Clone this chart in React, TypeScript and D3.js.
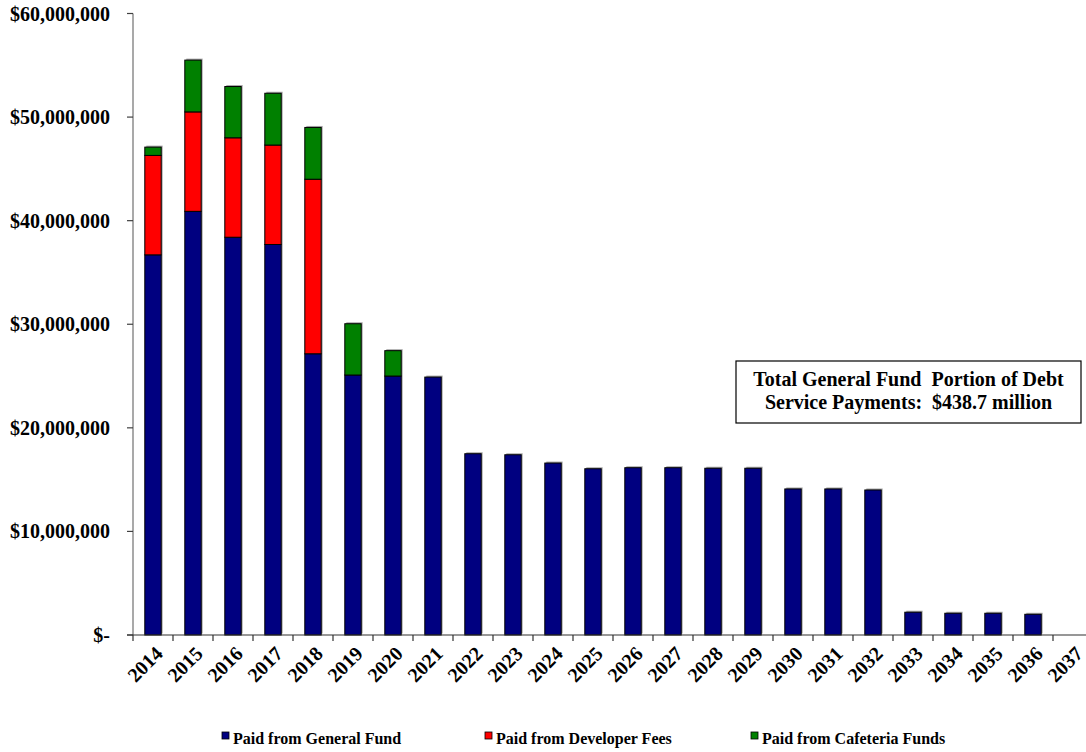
import React from "react";
import * as d3 from "d3";

// Debt service payments by fiscal year, in millions of dollars
const years = [
  "2014", "2015", "2016", "2017", "2018", "2019", "2020", "2021", "2022", "2023", "2024", "2025",
  "2026", "2027", "2028", "2029", "2030", "2031", "2032", "2033", "2034", "2035", "2036", "2037",
];
const generalFund = [
  36.7, 40.9, 38.4, 37.7, 27.15, 25.1, 25.0, 24.9, 17.5, 17.4, 16.6, 16.05,
  16.15, 16.15, 16.1, 16.1, 14.1, 14.1, 14.0, 2.2, 2.1, 2.1, 2.0, 0,
];
const developerFees = [
  9.6, 9.6, 9.6, 9.6, 16.85, 0, 0, 0, 0, 0, 0, 0,
  0, 0, 0, 0, 0, 0, 0, 0, 0, 0, 0, 0,
];
const cafeteriaFunds = [
  0.8, 5.0, 4.95, 5.0, 5.0, 4.95, 2.45, 0, 0, 0, 0, 0,
  0, 0, 0, 0, 0, 0, 0, 0, 0, 0, 0, 0,
];
const yTicks = [0, 10, 20, 30, 40, 50, 60];
const seriesNames = ["Paid from General Fund", "Paid from Developer Fees", "Paid from Cafeteria Funds"];
const seriesColors = ["#000080", "#FF0000", "#008000"];
const noteLines = ["Total General Fund  Portion of Debt", "Service Payments:  $438.7 million"];

const W = 1086;
const H = 752;
const FONT = "Liberation Serif, Times New Roman, serif";

const fmtMoney = (v: number) => (v === 0 ? "$-" : "$" + d3.format(",")(v * 1e6));

export default function App() {
  const x = d3
    .scaleBand<string>()
    .domain(years)
    .range([133, 1093])
    .paddingInner(0.59)
    .paddingOuter(0.295);
  const y = d3.scaleLinear().domain([0, 60]).range([635, 13.5]);

  const rows = years.map((yr, i) => ({
    year: yr,
    general: generalFund[i],
    developer: developerFees[i],
    cafeteria: cafeteriaFunds[i],
  }));
  const stack = d3.stack<any>().keys(["general", "developer", "cafeteria"]);
  const layers = stack(rows);

  const bw = x.bandwidth();
  const step = x.step();
  const x0 = 133;
  const baseY = y(0);

  const boundaries = d3.range(years.length).map((i) => x0 + i * step);

  const legendX = [222, 485, 751];

  return (
    <svg
      width={W}
      height={H}
      style={{ position: "absolute", left: 0, top: 0, background: "#fff" }}
      fontFamily={FONT}
    >
      <rect width={W} height={H} fill="#fff" />

      {/* drop shadows behind each stacked column */}
      {rows.map((r, i) => {
        const total = r.general + r.developer + r.cafeteria;
        if (total <= 0) return null;
        const bx = x(r.year)!;
        return (
          <rect
            key={"sh" + i}
            x={bx + 1.5}
            y={y(total) - 1.5}
            width={bw}
            height={baseY - y(total)}
            fill="#a8a8a8"
          />
        );
      })}

      {/* stacked segments */}
      {layers.map((layer, li) =>
        layer.map((seg, i) => {
          const h = y(seg[0]) - y(seg[1]);
          if (h <= 0) return null;
          return (
            <rect
              key={li + "-" + i}
              x={x(years[i])!}
              y={y(seg[1])}
              width={bw}
              height={h}
              fill={seriesColors[li]}
              stroke="#000"
              strokeWidth={1}
            />
          );
        })
      )}

      {/* y axis */}
      <line x1={x0} x2={x0} y1={y(60)} y2={baseY} stroke="#707070" strokeWidth={1.2} />
      {yTicks.map((t) => (
        <g key={"yt" + t}>
          <line x1={x0 - 6} x2={x0} y1={y(t)} y2={y(t)} stroke="#404040" strokeWidth={1.2} />
          <text
            x={110}
            y={y(t)}
            textAnchor="end"
            dominantBaseline="central"
            fontSize={20}
            fontWeight="bold"
            fill="#000"
          >
            {fmtMoney(t)}
          </text>
        </g>
      ))}

      {/* x axis */}
      <line x1={x0 - 6} x2={W} y1={baseY} y2={baseY} stroke="#303030" strokeWidth={1.2} />
      {boundaries.map((bx, i) => (
        <line key={"xt" + i} x1={bx} x2={bx} y1={baseY} y2={baseY + 6} stroke="#303030" strokeWidth={1.2} />
      ))}
      {years.map((yr) => {
        const cx = x(yr)! + bw / 2;
        return (
          <text
            key={"xl" + yr}
            transform={`translate(${cx + 6},${baseY + 15}) rotate(-45)`}
            textAnchor="end"
            dominantBaseline="central"
            fontSize={20}
            fontWeight="bold"
            fill="#000"
          >
            {yr}
          </text>
        );
      })}

      {/* annotation box */}
      <rect x={736} y={361} width={345} height={62} fill="#fff" stroke="#000" strokeWidth={1.2} />
      {noteLines.map((ln, i) => (
        <text
          key={"n" + i}
          x={908.5}
          y={386 + i * 23}
          textAnchor="middle"
          fontSize={20}
          fontWeight="bold"
          fill="#000"
          style={{ whiteSpace: "pre" }}
        >
          {ln}
        </text>
      ))}

      {/* legend */}
      {seriesNames.map((nm, i) => (
        <g key={"lg" + i}>
          <rect
            x={legendX[i]}
            y={732}
            width={7}
            height={7}
            fill={seriesColors[i]}
            stroke="#000"
            strokeWidth={0.8}
          />
          <text x={legendX[i] + 11} y={744} fontSize={16} fontWeight="bold" fill="#000">
            {nm}
          </text>
        </g>
      ))}
    </svg>
  );
}
